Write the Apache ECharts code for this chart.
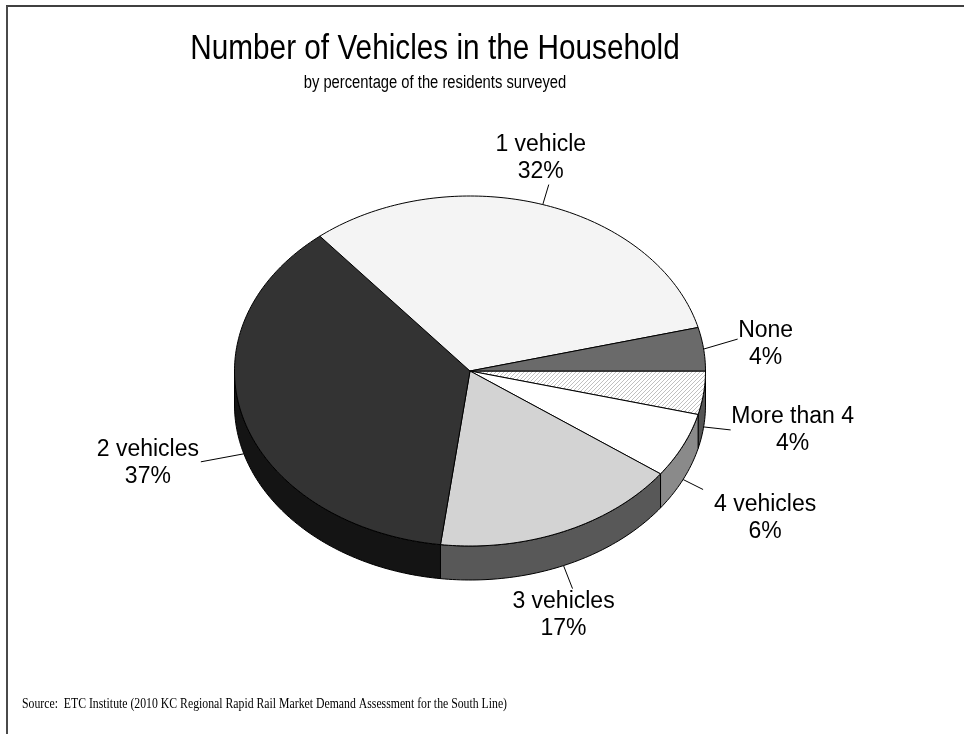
<!DOCTYPE html>
<html>
<head>
<meta charset="utf-8">
<title>Number of Vehicles in the Household</title>
<script src="https://cdn.jsdelivr.net/npm/echarts@6/dist/echarts.min.js"></script>
<style>
  html, body { margin: 0; padding: 0; background: #ffffff; }
  #chart { width: 964px; height: 734px; }
</style>
</head>
<body>
<div id="chart"></div>
<script>
// Survey shares, listed clockwise starting from the 3 o'clock position
const categories = ['More than 4', '4 vehicles', '3 vehicles', '2 vehicles', '1 vehicle', 'None'];
const percents = [4, 6, 17, 37, 32, 4];

const titleText = 'Number of Vehicles in the Household';
const subtitleText = 'by percentage of the residents surveyed';
const sourceText = 'Source:  ETC Institute (2010 KC Regional Rapid Rail Market Demand Assessment for the South Line)';

// ---- drawing setup ----
const CX = 470, CY = 371, RX = 235.5, RY = 175, DEPTH = 34;
const FONT = '"Liberation Sans", Arial, Helvetica, sans-serif';

// diagonal hatch tile used by the "More than 4" slice
function hatchPattern() {
  const c = document.createElement('canvas');
  c.width = 4; c.height = 4;
  const g = c.getContext('2d');
  g.fillStyle = '#ffffff';
  g.fillRect(0, 0, 4, 4);
  g.strokeStyle = '#b0b0b0';
  g.lineWidth = 0.8;
  g.beginPath();
  g.moveTo(-1, 5); g.lineTo(5, -1);
  g.moveTo(-1, 1); g.lineTo(1, -1);
  g.moveTo(3, 5); g.lineTo(5, 3);
  g.stroke();
  return { image: c, repeat: 'repeat' };
}

const topFills = [hatchPattern(), '#ffffff', '#d3d3d3', '#333333', '#f4f4f4', '#6a6a6a'];
const sideFills = ['#555555', '#8a8a8a', '#585858', '#141414', '#bdbdbd', '#3c3c3c'];

// leader end offset from slice anchor, then text-block centre offset from leader end
const labelLayout = [
  [27, 3, 62, 0],
  [20, 10, 62, 29],
  [9, 23, -9, 27],
  [-43, 8, -53, 1],
  [6, -20, -8, -26],
  [34, -10, 28, 5]
];

const total = percents.reduce((s, v) => s + v, 0);
function sliceAngles(i) {
  let before = 0;
  for (let k = 0; k < i; k++) before += percents[k];
  const a0 = before / total * Math.PI * 2;
  const a1 = (before + percents[i]) / total * Math.PI * 2;
  return [a0, a1];
}
function ell(a, dy) {
  return [CX + RX * Math.cos(a), CY + RY * Math.sin(a) + (dy || 0)];
}
function arcPoints(a0, a1, dy) {
  const pts = [];
  const n = Math.max(2, Math.ceil((a1 - a0) / (Math.PI / 180)));
  for (let k = 0; k <= n; k++) pts.push(ell(a0 + (a1 - a0) * k / n, dy));
  return pts;
}

const seriesData = percents.map((v, i) => ({ name: categories[i], value: [v, i] }));

function renderSide(params) {
  const [a0, a1] = sliceAngles(params.dataIndex);
  const b0 = Math.max(a0, 0), b1 = Math.min(a1, Math.PI);
  if (b1 <= b0) return null;
  const pts = arcPoints(b0, b1, 0).concat(arcPoints(b0, b1, DEPTH).reverse());
  return {
    type: 'polygon',
    shape: { points: pts },
    style: { fill: sideFills[params.dataIndex], stroke: '#000000', lineWidth: 1 }
  };
}

function renderTop(params) {
  const [a0, a1] = sliceAngles(params.dataIndex);
  const pts = [[CX, CY]].concat(arcPoints(a0, a1, 0));
  return {
    type: 'polygon',
    shape: { points: pts },
    style: { fill: topFills[params.dataIndex], stroke: '#000000', lineWidth: 1 }
  };
}

function renderLabel(params) {
  const i = params.dataIndex;
  const [a0, a1] = sliceAngles(i);
  const mid = (a0 + a1) / 2;
  const anchor = ell(mid, Math.sin(mid) > 0 ? DEPTH : 0);
  const lay = labelLayout[i];
  const end = [anchor[0] + lay[0], anchor[1] + lay[1]];
  return {
    type: 'group',
    children: [
      {
        type: 'line',
        shape: { x1: anchor[0], y1: anchor[1], x2: end[0], y2: end[1] },
        style: { stroke: '#000000', lineWidth: 1 }
      },
      {
        type: 'text',
        style: {
          text: categories[i] + '\n' + percents[i] + '%',
          x: end[0] + lay[2],
          y: end[1] + lay[3],
          align: 'center',
          verticalAlign: 'middle',
          font: '23px ' + FONT,
          lineHeight: 27,
          fill: '#000000'
        }
      }
    ]
  };
}

const chart = echarts.init(document.getElementById('chart'), null, { renderer: 'canvas' });
chart.setOption({
  backgroundColor: '#ffffff',
  animation: false,
  graphic: [
    { type: 'line', shape: { x1: 6, y1: 6, x2: 964, y2: 6 }, style: { stroke: '#000000', lineWidth: 1.5 } },
    { type: 'line', shape: { x1: 7, y1: 6, x2: 7, y2: 734 }, style: { stroke: '#4a4a4a', lineWidth: 2 } },
    {
      type: 'text', x: 435, y: 67, scaleX: 0.85,
      style: { x: 0, y: 0, text: titleText, font: '35px ' + FONT, fill: '#000000', align: 'center', verticalAlign: 'bottom' }
    },
    {
      type: 'text', x: 435, y: 92, scaleX: 0.82,
      style: { x: 0, y: 0, text: subtitleText, font: '18px ' + FONT, fill: '#000000', align: 'center', verticalAlign: 'bottom' }
    },
    {
      type: 'text', x: 22, y: 711, scaleX: 0.84,
      style: { x: 0, y: 0, text: sourceText, font: '14px "Liberation Serif", "Times New Roman", serif', fill: '#000000', align: 'left', verticalAlign: 'bottom' }
    }
  ],
  series: [
    { type: 'custom', name: 'sides', coordinateSystem: 'none', z: 1, silent: true, data: seriesData, renderItem: renderSide },
    { type: 'custom', name: 'tops', coordinateSystem: 'none', z: 2, silent: true, data: seriesData, renderItem: renderTop },
    { type: 'custom', name: 'labels', coordinateSystem: 'none', z: 3, silent: true, data: seriesData, renderItem: renderLabel }
  ]
});
</script>
</body>
</html>
